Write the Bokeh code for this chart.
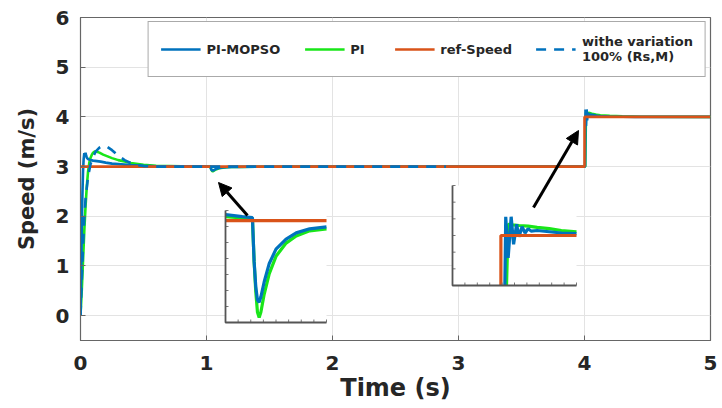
import numpy as np
from bokeh.plotting import figure
from bokeh.models import Range1d, Legend, LegendItem, Arrow, NormalHead
from bokeh.embed import file_html
from bokeh.resources import INLINE

# ---------------- data ----------------
x_ticks = [0, 1, 2, 3, 4, 5]
y_ticks = [0, 1, 2, 3, 4, 5, 6]

t_ref = [0.0, 4.0, 4.0, 5.0]
v_ref = [3.0, 3.0, 4.0, 4.0]

t_mopso = [0, 0.005, 0.01, 0.015, 0.02, 0.025, 0.03, 0.035, 0.04, 0.045, 0.05, 0.06, 0.07, 0.08,
           0.1, 0.13, 0.16, 0.2, 0.25, 0.3, 0.4, 0.5, 0.6, 0.8, 0.95, 1.0, 1.03, 1.035, 1.04, 1.045,
           1.05, 1.055, 1.065, 1.08, 1.1, 1.13, 1.16, 1.2, 1.25, 1.4, 2.0, 3.0, 4.0, 4.005, 4.008,
           4.012, 4.017, 4.021, 4.026, 4.03, 4.035, 4.04, 4.045, 4.05, 4.06, 4.08, 4.1, 4.125, 4.2,
           4.3, 4.4, 5.0]
v_mopso = [0, 0.8, 1.7, 2.4, 2.9, 3.15, 3.27, 3.2, 3.28, 3.22, 3.18, 3.15, 3.14, 3.13,
           3.12, 3.11, 3.1, 3.08, 3.06, 3.05, 3.03, 3.015, 3.008, 3.005, 3.006, 3.004, 3.003, 2.96, 2.935, 2.922,
           2.92, 2.925, 2.94, 2.958, 2.972, 2.982, 2.988, 2.992, 2.994, 2.998, 3.0, 3.0, 3.0, 3.0, 4.15,
           3.82, 4.15, 3.93, 4.09, 3.99, 4.07, 4.02, 4.055, 4.035, 4.04, 4.03, 4.02, 4.015, 4.008,
           4.003, 4.0, 4.0]

t_pi = [0, 0.01, 0.02, 0.03, 0.04, 0.05, 0.06, 0.07, 0.08, 0.09, 0.1, 0.11, 0.12, 0.13, 0.15,
        0.18, 0.2, 0.25, 0.3, 0.35, 0.4, 0.5, 0.6, 0.8, 0.95, 1.03, 1.035, 1.04, 1.045, 1.05, 1.055,
        1.065, 1.08, 1.1, 1.13, 1.16, 1.2, 1.25, 1.4, 2.0, 3.0, 4.0, 4.006, 4.012, 4.02, 4.03, 4.045,
        4.06, 4.08, 4.1, 4.125, 4.2, 4.3, 4.45, 5.0]
v_pi = [0, 0.5, 1.1, 1.7, 2.2, 2.6, 2.9, 3.08, 3.18, 3.24, 3.28, 3.3, 3.31, 3.3, 3.28,
        3.24, 3.22, 3.17, 3.13, 3.1, 3.07, 3.035, 3.015, 3.005, 3.004, 3.002, 2.96, 2.93, 2.91, 2.905, 2.91,
        2.928, 2.948, 2.965, 2.978, 2.985, 2.99, 2.992, 2.997, 3.0, 3.0, 3.0, 3.0, 4.09, 4.085, 4.08, 4.075,
        4.065, 4.055, 4.04, 4.03, 4.02, 4.012, 4.004, 4.0]

t_var = [0, 0.01, 0.02, 0.03, 0.04, 0.06, 0.08, 0.1, 0.12, 0.15, 0.18, 0.21, 0.25, 0.3, 0.35,
         0.4, 0.45, 0.5, 0.6, 2.9]
v_var = [0, 0.7, 1.4, 1.95, 2.35, 2.8, 3.05, 3.2, 3.3, 3.38, 3.42, 3.4, 3.33, 3.22, 3.13,
         3.07, 3.03, 3.01, 3.0, 3.0]

# inset data windows (time range, speed range)
inset1_t = [0.95, 1.25]
inset1_v = [2.90, 3.01]
inset2_t = [3.92, 4.125]
inset2_v = [3.6, 4.4]

# ---------------- layout ----------------
W, H = 720, 406
BL, BR, BT, BB = 80, 10, 17, 66
FX0, FX1 = BL, W - BR          # frame pixel extents on the page
FY0, FY1 = BT, H - BB
XMIN, XMAX, YMIN, YMAX = 0, 5, -0.5, 6

BLUE = "#0072BD"
GREEN = "#19E619"
ORANGE = "#D95319"
FONT = "DejaVu Sans"

p = figure(width=W, height=H, output_backend="svg", toolbar_location=None,
           x_range=Range1d(XMIN, XMAX), y_range=Range1d(YMIN, YMAX),
           min_border_left=BL, min_border_right=BR, min_border_top=BT, min_border_bottom=BB)
p.background_fill_color = "white"
p.border_fill_color = "white"
p.outline_line_color = "#666666"
p.outline_line_width = 1.2

for ax in (p.xaxis, p.yaxis):
    ax.major_label_text_font = FONT
    ax.major_label_text_font_style = "bold"
    ax.major_label_text_font_size = "20px"
    ax.major_label_text_color = "#262626"
    ax.axis_label_text_font = FONT
    ax.axis_label_text_font_style = "bold"
    ax.axis_label_text_color = "#262626"
    ax.axis_line_color = "#666666"
    ax.major_tick_in = 5
    ax.major_tick_out = 0
    ax.major_tick_line_color = "#666666"
    ax.minor_tick_line_color = None
p.xaxis.ticker = x_ticks
p.yaxis.ticker = y_ticks
p.xaxis.axis_label = "Time (s)"
p.yaxis.axis_label = "Speed (m/s)"
p.xaxis.axis_label_text_font_size = "24px"
p.yaxis.axis_label_text_font_size = "21px"
p.xaxis.major_label_standoff = 15
p.yaxis.major_label_standoff = 11
p.xaxis.axis_label_standoff = 1
p.yaxis.axis_label_standoff = 14
p.grid.grid_line_color = "#E3E3E3"
p.grid.grid_line_width = 1

# main curves
r_pi = p.line(t_pi, v_pi, line_color=GREEN, line_width=2.6)
r_mo = p.line(t_mopso, v_mopso, line_color=BLUE, line_width=2.6)
r_ref = p.line(t_ref, v_ref, line_color=ORANGE, line_width=2.6)
r_var = p.line(t_var, v_var, line_color=BLUE, line_width=2.6, line_dash="10 8")


def clip_line(xs, ys, x0, x1, y0, y1):
    ox, oy, prev = [], [], None
    for i in range(len(xs) - 1):
        ax_, ay_, bx_, by_ = xs[i], ys[i], xs[i + 1], ys[i + 1]
        dx, dy = bx_ - ax_, by_ - ay_
        a, b, ok = 0.0, 1.0, True
        for pp, qq in ((-dx, ax_ - x0), (dx, x1 - ax_), (-dy, ay_ - y0), (dy, y1 - ay_)):
            if pp == 0:
                if qq < 0:
                    ok = False
                    break
            else:
                r = qq / pp
                if pp < 0:
                    if r > b:
                        ok = False
                        break
                    a = max(a, r)
                else:
                    if r < a:
                        ok = False
                        break
                    b = min(b, r)
        if not ok:
            continue
        sx, sy = ax_ + a * dx, ay_ + a * dy
        ex, ey = ax_ + b * dx, ay_ + b * dy
        if prev is None or abs(prev[0] - sx) > 1e-12 or abs(prev[1] - sy) > 1e-12:
            if ox:
                ox.append(np.nan)
                oy.append(np.nan)
            ox.append(sx)
            oy.append(sy)
        ox.append(ex)
        oy.append(ey)
        prev = (ex, ey)
    return ox, oy


def add_inset(name, trange, vrange, box, nxt, nyt, lw):
    px0, px1, py_top, py_bot = box
    fx0 = (px0 - FX0) / (FX1 - FX0)
    fx1 = (px1 - FX0) / (FX1 - FX0)
    fy0 = (FY1 - py_bot) / (FY1 - FY0)
    fy1 = (FY1 - py_top) / (FY1 - FY0)
    sx = (trange[1] - trange[0]) / (fx1 - fx0)
    sy = (vrange[1] - vrange[0]) / (fy1 - fy0)
    p.extra_x_ranges[name + "x"] = Range1d(trange[0] - fx0 * sx, trange[0] - fx0 * sx + sx)
    p.extra_y_ranges[name + "y"] = Range1d(vrange[0] - fy0 * sy, vrange[0] - fy0 * sy + sy)
    kw = dict(x_range_name=name + "x", y_range_name=name + "y")
    t0, t1 = trange
    v0, v1 = vrange
    p.quad(left=[t0], right=[t1], bottom=[v0], top=[v1], fill_color="white",
           line_color=None, **kw)
    for tt, vv, col in ((t_pi, v_pi, GREEN), (t_mopso, v_mopso, BLUE), (t_ref, v_ref, ORANGE)):
        cx, cy = clip_line(tt, vv, t0, t1, v0, v1)
        p.line(cx, cy, line_color=col, line_width=lw, **kw)
    # inset axes
    dpx_t = (t1 - t0) / (px1 - px0)
    dpx_v = (v1 - v0) / (py_bot - py_top)
    xt = list(np.linspace(t0, t1, nxt + 1))
    yt = list(np.linspace(v0, v1, nyt + 1))
    p.segment(x0=xt, y0=[v0] * len(xt), x1=xt, y1=[v0 + 3 * dpx_v] * len(xt),
              line_color="#777777", line_width=1, **kw)
    p.segment(x0=[t0] * len(yt), y0=yt, x1=[t0 + 3 * dpx_t] * len(yt), y1=yt,
              line_color="#777777", line_width=1, **kw)
    p.line([t0, t0, t1], [v1, v0, v0], line_color="#555555", line_width=1.8, **kw)


add_inset("in1", inset1_t, inset1_v, (225, 326, 210, 322), 8, 7, 3.2)
add_inset("in2", inset2_t, inset2_v, (452, 576, 185, 285), 10, 6, 3.2)


def px_to_data(px, py):
    return (XMIN + (px - FX0) / (FX1 - FX0) * (XMAX - XMIN),
            YMAX - (py - FY0) / (FY1 - FY0) * (YMAX - YMIN))


for (tx, ty), (hx, hy) in (((247, 215), (218, 182)), ((533, 207), (578, 130))):
    xs, ys = px_to_data(tx, ty)
    xe, ye = px_to_data(hx, hy)
    p.add_layout(Arrow(x_start=xs, y_start=ys, x_end=xe, y_end=ye, line_width=3,
                       line_color="black",
                       end=NormalHead(size=13, fill_color="black", line_color="black")))

legend = Legend(items=[
    LegendItem(label="PI-MOPSO", renderers=[r_mo]),
    LegendItem(label="PI", renderers=[r_pi]),
    LegendItem(label="ref-Speed", renderers=[r_ref]),
    LegendItem(label="withe variation\n100% (Rs,M)", renderers=[r_var]),
], location="top_right", orientation="horizontal")
legend.label_text_font = FONT
legend.label_text_font_style = "bold"
legend.label_text_font_size = "13px"
legend.label_text_color = "#262626"
legend.glyph_width = 40
legend.label_standoff = 6
legend.spacing = 24
legend.padding = 12
legend.margin = 4
legend.border_line_color = "#555555"
legend.border_line_width = 1.5
legend.background_fill_alpha = 1
p.add_layout(legend)

open("out.html", "w").write(file_html(p, INLINE))
